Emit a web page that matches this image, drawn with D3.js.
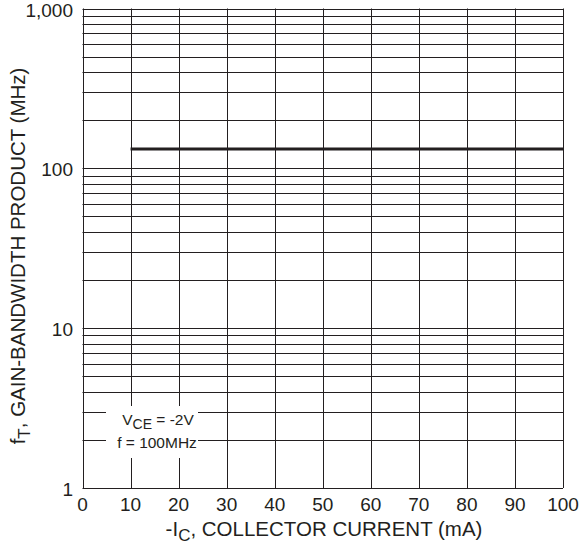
<!DOCTYPE html>
<html>
<head>
<meta charset="utf-8">
<script src="https://cdn.jsdelivr.net/npm/d3@7"></script>
<style>
  body { margin: 0; background: #fff; }
  text { font-family: "Liberation Sans", Arial, sans-serif; fill: #231f20; }
</style>
</head>
<body>
<div id="chart"></div>
<script>
"use strict";

// data
var currentMA = [10, 100];
var ftMHz = [132, 132];
var xTicks = [0, 10, 20, 30, 40, 50, 60, 70, 80, 90, 100];
var yLabels = [1, 10, 100, 1000];
var yLabelText = ["1", "10", "100", "1,000"];
var noteLines = ["VCE", "f = 100MHz"];

function initChart(element) {
  var width = 579, height = 544;
  var left = 82.5, right = 563, top = 8.5, bottom = 488;

  var x = d3.scaleLinear().domain([0, 100]).range([left, right]);
  var y = d3.scaleLog().domain([1, 1000]).range([bottom, top]);

  var svg = d3.select(element).append("svg")
    .attr("width", width)
    .attr("height", height);

  var ink = "#231f20";

  // minor/major horizontal gridlines: 1..10 in every decade
  var hLines = [];
  [1, 10, 100].forEach(function(dec) {
    for (var k = 1; k < 10; ++k) hLines.push(dec * k);
  });
  hLines.push(1000);

  svg.append("g").selectAll("line")
    .data(hLines)
    .enter().append("line")
    .attr("x1", left).attr("x2", right)
    .attr("y1", function(d) { return Math.round(y(d)) + 0.5; })
    .attr("y2", function(d) { return Math.round(y(d)) + 0.5; })
    .style("stroke", ink)
    .style("stroke-width", 1);

  svg.append("g").selectAll("line")
    .data(xTicks)
    .enter().append("line")
    .attr("x1", function(d) { return Math.round(x(d)) + 0.5; })
    .attr("x2", function(d) { return Math.round(x(d)) + 0.5; })
    .attr("y1", top).attr("y2", bottom)
    .style("stroke", ink)
    .style("stroke-width", 1);

  // data line
  var line = d3.line()
    .x(function(d, i) { return x(currentMA[i]); })
    .y(function(d) { return y(d); });
  svg.append("path")
    .datum(ftMHz)
    .attr("d", line)
    .style("fill", "none")
    .style("stroke", ink)
    .style("stroke-width", 3);

  // annotation box hides the grid
  svg.append("rect")
    .attr("x", 106).attr("y", 406)
    .attr("width", 92).attr("height", 52)
    .style("fill", "#fff");

  var note = svg.append("text")
    .attr("x", 158).attr("y", 425)
    .attr("text-anchor", "middle")
    .style("font-size", "15.5px");
  note.append("tspan").text("V");
  note.append("tspan").attr("dy", 4).style("font-size", "14px").text("CE");
  note.append("tspan").attr("dy", -4).text(" = -2V");

  svg.append("text")
    .attr("x", 157).attr("y", 448)
    .attr("text-anchor", "middle")
    .style("font-size", "15.5px")
    .text(noteLines[1]);

  // tick labels
  svg.append("g").selectAll("text")
    .data(xTicks)
    .enter().append("text")
    .attr("x", function(d) { return x(d); })
    .attr("y", 511)
    .attr("text-anchor", "middle")
    .style("font-size", "19px")
    .text(function(d) { return d; });

  svg.append("g").selectAll("text")
    .data(yLabels)
    .enter().append("text")
    .attr("x", 73)
    .attr("y", function(d) { return y(d) + 8; })
    .attr("text-anchor", "end")
    .style("font-size", "19px")
    .text(function(d, i) { return yLabelText[i]; });

  // axis titles
  var xt = svg.append("text")
    .attr("x", 324).attr("y", 536)
    .attr("text-anchor", "middle")
    .style("font-size", "20.5px");
  xt.append("tspan").text("-I");
  xt.append("tspan").attr("dy", 5).style("font-size", "17px").text("C");
  xt.append("tspan").attr("dy", -5).text(", COLLECTOR CURRENT (mA)");

  var yt = svg.append("text")
    .attr("transform", "translate(25,256) rotate(-90)")
    .attr("text-anchor", "middle")
    .style("font-size", "20.5px");
  yt.append("tspan").text("f");
  yt.append("tspan").attr("dy", 5).style("font-size", "17px").text("T");
  yt.append("tspan").attr("dy", -5).text(", GAIN-BANDWIDTH PRODUCT (MHz)");
}

initChart(document.getElementById("chart"));
</script>
</body>
</html>
